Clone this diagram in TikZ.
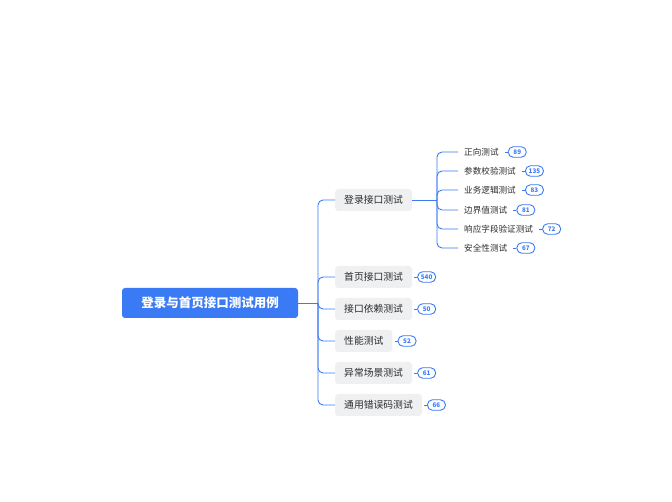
\documentclass[tikz,border=0pt]{standalone}
\usepackage{fontspec}
\setmainfont{Noto Sans CJK SC}
\definecolor{blu}{HTML}{3A7BF5}
\definecolor{lg}{HTML}{EFF0F2}
\definecolor{txt}{HTML}{2B2B2B}
\begin{document}
\begin{tikzpicture}[x=1pt,y=-1pt,
 root/.style={fill=blu,rounded corners=3pt,text=white,minimum width=176pt,minimum height=30pt,font=\fontsize{12.5}{13}\selectfont\bfseries,inner sep=0pt},
 l1/.style={fill=lg,rounded corners=3pt,text=txt,minimum height=22pt,inner xsep=9pt,inner ysep=0pt,anchor=west,font=\fontsize{9.8}{10}\selectfont},
 l2/.style={text=txt,anchor=west,inner sep=0pt,font=\fontsize{8.6}{9}\selectfont},
 badge/.style={draw=blu,line width=0.9pt,fill=white,rounded corners=5pt,text=blu,minimum height=10.5pt,minimum width=18pt,inner xsep=2pt,inner ysep=0pt,anchor=west,font=\fontsize{6.3}{7}\selectfont\bfseries},
 edge/.style={draw=blu,line width=0.9pt,rounded corners=5pt}]
\useasboundingbox (0,0) rectangle (672,502);
\node[root] (r) at (210,303) {登录与首页接口测试用例};
\coordinate (t) at (318,303);
\node[l1] (a) at (335,200) {登录接口测试};
\node[l1] (b) at (335,277) {首页接口测试};
\node[l1] (c) at (335,309) {接口依赖测试};
\node[l1] (d) at (335,341) {性能测试};
\node[l1] (e) at (335,373) {异常场景测试};
\node[l1] (f) at (335,405) {通用错误码测试};
\draw[edge] (r.east) -- (t);
\foreach \n in {a,b,c,d,e,f} \draw[edge] (t) |- (\n.west);
\foreach \n/\v in {b/540,c/50,d/52,e/61,f/66}{
 \node[badge] (bb\n) at ([xshift=5pt]\n.east) {\v};
 \draw[blu,line width=0.9pt] ([xshift=-3pt]bb\n.west) -- (bb\n.west);}
\coordinate (s) at (437,200);
\draw[edge] (a.east) -- (s);
\foreach \i/\t/\v/\y in {1/正向测试/89/152,2/参数校验测试/135/171,3/业务逻辑测试/83/190,4/边界值测试/81/210,5/响应字段验证测试/72/229,6/安全性测试/67/248}{
 \node[l2] (c\i) at (464,\y) {\t};
 \coordinate (e\i) at (458,\y);
 \draw[edge] (s) |- (e\i);
 \node[badge] (cb\i) at ([xshift=9pt]c\i.east) {\v};
 \draw[blu,line width=0.9pt] ([xshift=-3pt]cb\i.west) -- (cb\i.west);}
\end{tikzpicture}
\end{document}
